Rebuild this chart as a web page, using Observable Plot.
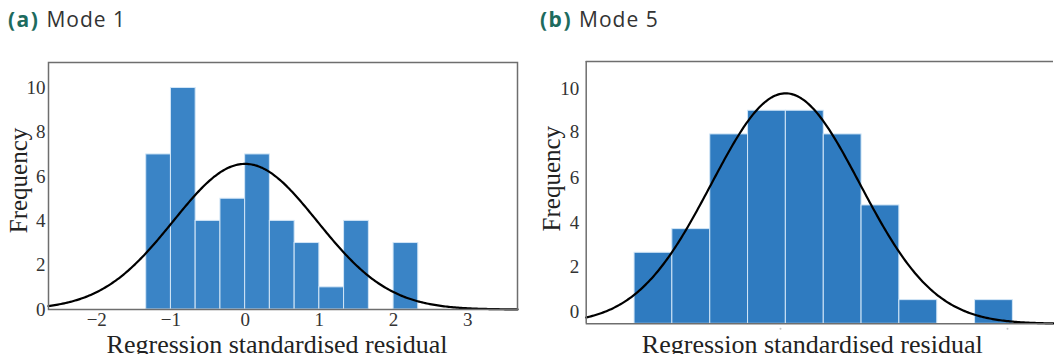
<!DOCTYPE html>
<html>
<head>
<meta charset="utf-8">
<script src="https://cdn.jsdelivr.net/npm/d3@7"></script>
<script src="https://cdn.jsdelivr.net/npm/@observablehq/plot@0.6"></script>
<style>
  html, body { margin: 0; padding: 0; background: #fff; }
  #root { position: relative; width: 1054px; height: 354px; overflow: hidden; }
  .title { position: absolute; top: 4px; font-family: "Open Sans", Lato, sans-serif; font-size: 21px; line-height: 30px; color: #333; white-space: nowrap; letter-spacing: 1px; }
  .title b { color: #1d6b5e; font-weight: 700; margin-right: 7px; letter-spacing: 1.5px; }
  .panel { position: absolute; top: 40px; }
  .panel svg { display: block; }
</style>
</head>
<body>
<div id="root">
  <div class="title" style="left:8px"><b>(a)</b>Mode 1</div>
  <div class="title" style="left:540px"><b>(b)</b>Mode 5</div>
  <div class="panel" id="pa" style="left:0px"></div>
  <div class="panel" id="pb" style="left:530px"></div>
</div>
<script>
// Mode 1: histogram bin edges and counts of standardised residuals
const edgesA = [-1.333, -1, -0.667, -0.333, 0, 0.333, 0.667, 1, 1.333, 1.667, 2, 2.333];
const countsA = [7, 10, 4, 5, 7, 4, 3, 1, 4, 0, 3];
const fitA = {mean: 0, sd: 0.97};
const xTicksA = [-2, -1, 0, 1, 2, 3];
const yTicksA = [0, 2, 4, 6, 8, 10];

// Mode 5: histogram bin edges and counts
const edgesB = [-1.286, -0.953, -0.619, -0.286, 0.047, 0.381, 0.714, 1.047, 1.381, 1.714, 2.047];
const countsB = [3, 4, 8, 9, 9, 8, 5, 1, 0, 1];
const fitB = {mean: 0.045, sd: 0.655};
const xTicksB = [0, 2];
// y-axis labels of panel (b) sit slightly off the bar scale
const yTickPosB = [0.49, 2.39, 4.26, 6.16, 8.09, 9.93];
const yTickLabelsB = ["0", "2", "4", "6", "8", "10"];

const serif = "'Liberation Serif', 'DejaVu Serif', serif";
const frameColor = "#6e6e6e";
const intFormat = d3.format("d");

function bins(edges, counts) {
  return counts.map((c, i) => ({x1: edges[i], x2: edges[i + 1], count: c}));
}

// Fitted normal curve scaled to the histogram (N × bin width × density)
function normalCurve(edges, counts, fit, domain) {
  const n = d3.sum(counts);
  const w = edges[1] - edges[0];
  const k = n * w / (fit.sd * Math.sqrt(2 * Math.PI));
  return d3.range(0, 301).map(i => {
    const x = domain[0] + (domain[1] - domain[0]) * i / 300;
    const z = (x - fit.mean) / fit.sd;
    return {x, y: k * Math.exp(-0.5 * z * z)};
  });
}

const xDomA = [-2.65, 3.67], yDomA = [0, 11.15];
const plotA = Plot.plot({
  width: 530, height: 314,
  marginLeft: 48, marginRight: 13, marginTop: 22, marginBottom: 45,
  style: {fontFamily: serif, fontSize: "18px", color: "#333", background: "transparent", overflow: "visible"},
  x: {domain: xDomA},
  y: {domain: yDomA},
  marks: [
    Plot.rectY(bins(edgesA, countsA).filter(d => d.count > 0), {x1: "x1", x2: "x2", y: "count", fill: "#3a84c6", stroke: "#d2e6f7", strokeWidth: 1}),
    Plot.line(normalCurve(edgesA, countsA, fitA, xDomA), {x: "x", y: "y", stroke: "#000", strokeWidth: 2.2}),
    Plot.frame({stroke: frameColor, strokeWidth: 1.5}),
    Plot.axisX({ticks: xTicksA, tickFormat: intFormat, tickSize: 0, tickPadding: 3, fontSize: 19, fontFamily: serif, fill: "#333", label: null}),
    Plot.axisY({ticks: yTicksA, tickFormat: intFormat, tickSize: 0, tickPadding: 3, fontSize: 19, fontFamily: serif, fill: "#333", label: null}),
    Plot.text(["Regression standardised residual"], {frameAnchor: "bottom", textAnchor: "middle", lineAnchor: "top", dy: 25.5, dx: -6, fontSize: 26, fontFamily: serif, fill: "#222"}),
    Plot.text(["Frequency"], {frameAnchor: "left", textAnchor: "middle", lineAnchor: "middle", rotate: -90, dx: -29.5, dy: -5.5, fontSize: 25, fontFamily: serif, fill: "#222"})
  ]
});
document.getElementById("pa").appendChild(plotA);

const xDomB = [-1.712, 2.405], yDomB = [0, 11.08];
const plotB = Plot.plot({
  width: 524, height: 314,
  marginLeft: 55.7, marginRight: 1, marginTop: 21, marginBottom: 30.7,
  style: {fontFamily: serif, fontSize: "18px", color: "#333", background: "transparent", overflow: "visible"},
  x: {domain: xDomB, axis: null},
  y: {domain: yDomB},
  marks: [
    Plot.rectY(bins(edgesB, countsB).filter(d => d.count > 0), {x1: "x1", x2: "x2", y: "count", fill: "#2f7bc0", stroke: "#d2e6f7", strokeWidth: 1}),
    Plot.line(normalCurve(edgesB, countsB, fitB, xDomB), {x: "x", y: "y", stroke: "#000", strokeWidth: 2.2}),
    Plot.ruleX([xDomB[0]], {stroke: frameColor, strokeWidth: 1.5}),
    Plot.ruleY([yDomB[0], yDomB[1]], {stroke: frameColor, strokeWidth: 1.5}),
    // faint unlabeled x ticks below the baseline
    Plot.dot(xTicksB, {x: d => d, frameAnchor: "bottom", dy: 5, r: 1, fill: "#c4c4c4", stroke: null}),
    Plot.axisY({ticks: yTickPosB, tickFormat: (d, i) => yTickLabelsB[i], tickSize: 0, tickPadding: 7, fontSize: 19, fontFamily: serif, fill: "#333", label: null}),
    Plot.text(["Regression standardised residual"], {frameAnchor: "bottom", textAnchor: "middle", lineAnchor: "top", dy: 11, dx: -7.6, fontSize: 26, fontFamily: serif, fill: "#222"}),
    Plot.text(["Frequency"], {frameAnchor: "left", textAnchor: "middle", lineAnchor: "middle", rotate: -90, dx: -33.9, dy: -14, fontSize: 25, fontFamily: serif, fill: "#222"})
  ]
});
document.getElementById("pb").appendChild(plotB);
</script>
</body>
</html>
